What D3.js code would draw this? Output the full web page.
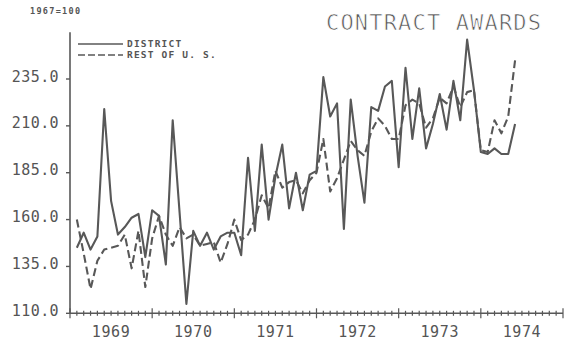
<!DOCTYPE html>
<html><head><meta charset="utf-8">
<script src="https://cdn.jsdelivr.net/npm/d3@7"></script>
<style>
html,body{margin:0;padding:0;background:#fff;}
svg{display:block;}
text{font-family:"DejaVu Sans Mono",monospace;fill:#555;}
</style></head>
<body>
<svg id="c" width="564" height="341"></svg>
<script>
// ---- data (monthly index, 1967=100) ----
const startYear = 1969;           // first observation: Jan 1969
const district = [
 145,153,144,151,219,170,152,156,161,163,140,165,   // 1969
 162,136,213,164,115,154,146,153,144,151,153,153,   // 1970
 141,193,154,200,160,183,200,166,185,165,184,186,   // 1971
 236,215,222,155,224,194,169,220,218,231,234,188,   // 1972
 241,203,230,198,211,227,208,234,213,256,229,196,   // 1973
 195,198,195,195,211                                // 1974
];
const restOfUS = [
 160,142,123,138,144,145,146,152,134,154,124,150,
 162,152,146,156,150,152,146,147,148,137,147,160,
 149,152,160,173,166,186,177,180,181,174,181,185,
 203,175,182,192,202,197,194,207,214,210,203,203,
 221,224,222,209,214,225,222,231,220,228,229,197,
 196,213,206,215,245
];
const yearLabels = ["1969","1970","1971","1972","1973","1974"];
const yTicks = [110,135,160,185,210,235];
const yTickLabels = ["110.0","135.0","160.0","185.0","210.0","235.0"];
const seriesNames = ["DISTRICT","REST OF U. S."];
const titleText = "CONTRACT AWARDS";
const baseText = "1967=100";

const ink = "#585858";
const svg = d3.select("#c");

const x = d3.scaleLinear().domain([1969, 1975]).range([70, 563]);
const y = d3.scaleLinear().domain([110, 235]).range([313.3, 79]);
const yTop = 260;

// time position of month i: plotted at month end
const t = i => startYear + (i + 1) / 12;

// axes
const g = svg.append("g");
g.append("line").attr("x1", x(1969)).attr("x2", x(1969))
  .attr("y1", y(110)).attr("y2", y(yTop)).attr("stroke", ink).attr("stroke-width", 1.6);
g.append("line").attr("x1", x(1969)).attr("x2", x(1975))
  .attr("y1", y(110)).attr("y2", y(110)).attr("stroke", ink).attr("stroke-width", 1.6);

// y ticks
yTicks.forEach((v, i) => {
  g.append("line").attr("x1", x(1969) - 4).attr("x2", x(1969))
    .attr("y1", y(v)).attr("y2", y(v)).attr("stroke", ink).attr("stroke-width", 1.4);
  g.append("text").attr("x", 59).attr("y", y(v) - 2)
    .attr("text-anchor", "end").attr("dominant-baseline", "middle")
    .attr("font-size", 15).attr("letter-spacing", 0.4).text(yTickLabels[i]);
});

// x ticks: monthly minor, yearly major
d3.range(0, 73).forEach(m => {
  const v = 1969 + m / 12;
  const major = m % 12 === 0;
  g.append("line").attr("x1", x(v)).attr("x2", x(v))
    .attr("y1", y(110) - (major ? 5 : 2.5)).attr("y2", y(110) + (major ? 5 : 2.5))
    .attr("stroke", ink).attr("stroke-width", 1.2);
});
yearLabels.forEach((lab, i) => {
  g.append("text").attr("x", x(1969 + i + 0.5)).attr("y", 332)
    .attr("text-anchor", "middle").attr("dominant-baseline", "middle")
    .attr("font-size", 15).attr("letter-spacing", 0.6).text(lab);
});

// lines
const line = d3.line().x((d, i) => x(t(i))).y(d => y(d));
svg.append("path").datum(district).attr("d", line)
  .attr("fill", "none").attr("stroke", ink).attr("stroke-width", 2.1)
  .attr("stroke-linejoin", "round");
svg.append("path").datum(restOfUS).attr("d", line)
  .attr("fill", "none").attr("stroke", ink).attr("stroke-width", 2.1)
  .attr("stroke-dasharray", "8,4").attr("stroke-linejoin", "round");

// legend
const lg = svg.append("g");
lg.append("line").attr("x1", 78).attr("x2", 123).attr("y1", 44).attr("y2", 44)
  .attr("stroke", ink).attr("stroke-width", 1.4);
lg.append("line").attr("x1", 78).attr("x2", 123).attr("y1", 55).attr("y2", 55)
  .attr("stroke", ink).attr("stroke-width", 1.4).attr("stroke-dasharray", "7,3");
lg.append("text").attr("x", 127).attr("y", 46.5).attr("font-size", 9.5)
  .attr("font-weight", "bold").attr("letter-spacing", 1.2).text(seriesNames[0]);
lg.append("text").attr("x", 127).attr("y", 57.5).attr("font-size", 9.5)
  .attr("font-weight", "bold").attr("letter-spacing", 1.2).text(seriesNames[1]);

// base note and title
svg.append("text").attr("x", 30).attr("y", 14).attr("font-size", 8.5)
  .attr("font-weight", "bold").attr("letter-spacing", 1.3).text(baseText);
svg.append("text").attr("x", 326).attr("y", 30).attr("font-size", 22)
  .attr("textLength", 215).attr("lengthAdjust", "spacing")
  .attr("fill", "#6a6a6a").attr("stroke", "#fff").attr("stroke-width", 0.7)
  .text(titleText);
</script>
</body></html>
